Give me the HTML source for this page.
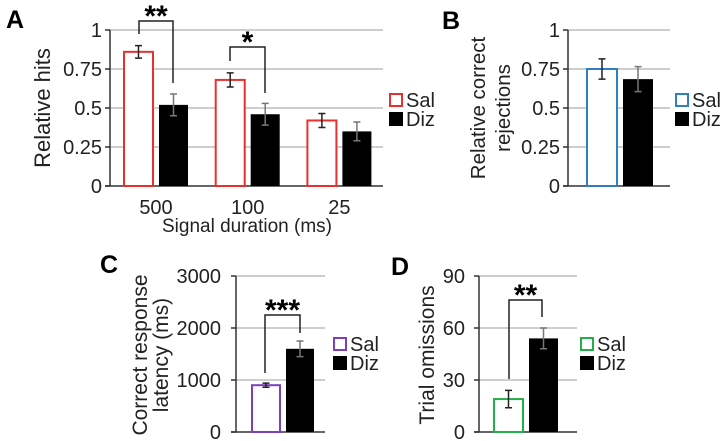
<!DOCTYPE html>
<html><head><meta charset="utf-8"><style>
html,body{margin:0;padding:0;background:#fff;}
svg{display:block;font-family:"Liberation Sans",Arial,sans-serif;}
</style></head><body>
<svg id="fig" width="720" height="441" viewBox="0 0 720 441"></svg>
<script>
const catsA = ["500","100","25"];
const salA = [0.86,0.68,0.42];
const salAErr = [0.04,0.045,0.045];
const dizA = [0.52,0.46,0.35];
const dizAErr = [0.07,0.07,0.06];
const ticksA = [0,0.25,0.5,0.75,1];
const tickLabelsA = ["0","0.25","0.5","0.75","1"];
const salB = [0.75], salBErr=[0.065], dizB=[0.685], dizBErr=[0.08];
const salC = [900], salCErr=[40], dizC=[1600], dizCErr=[150];
const ticksC = [0,1000,2000,3000];
const salD = [19], salDErr=[5], dizD=[54], dizDErr=[6];
const ticksD = [0,30,60,90];

const NS="http://www.w3.org/2000/svg";
const svg=document.getElementById('fig');
function mk(tag,attrs,parent,txt){const e=document.createElementNS(NS,tag);for(const k in attrs)e.setAttribute(k,attrs[k]);if(txt!==undefined)e.textContent=txt;(parent||svg).appendChild(e);return e;}

function panel(o){
  const g=mk('g',{});
  
  
  const y=v=>o.y0-(v-o.min)/(o.max-o.min)*(o.y0-o.y1);
  const tfs=o.tfs||20;
  o.ticks.forEach((t,i)=>{
    if(i>0){const gl=mk('line',{x1:o.ax,x2:o.gx,y1:y(t),y2:y(t),stroke:'#bdbdbd','stroke-width':1.5},g);
      }
    const tk=mk('line',{x1:o.ax-5,x2:o.ax,y1:y(t),y2:y(t),stroke:'#333','stroke-width':1.5},g);
    
    const tl=mk('text',{x:o.ax-(o.tgap||8),y:y(t)+tfs*0.35,'text-anchor':'end','font-size':tfs,fill:'#222'},g,o.tickLabels?o.tickLabels[i]:String(t));
    
  });
  const ya=mk('line',{x1:o.ax,x2:o.ax,y1:o.y1,y2:o.y0,stroke:'#333','stroke-width':1.5},g);
  
  const xa=mk('line',{x1:o.ax-5,x2:o.gx,y1:o.y0,y2:o.y0,stroke:'#333','stroke-width':1.5},g);
  
  o.sal.forEach((v,i)=>{
    const c=o.c0+i*o.step;
    const b=mk('rect',{x:c-o.off-o.bw,y:y(v),width:o.bw,height:o.y0-y(v),fill:'#fff',stroke:o.color,'stroke-width':2},g);
    
    const d=o.diz[i];
    const b2=mk('rect',{x:c+o.off,y:y(d),width:o.bw,height:o.y0-y(d),fill:'#000'},g);
    
    [[c-o.off-o.bw/2,v,o.salErr[i],'#222'],[c+o.off+o.bw/2,d,o.dizErr[i],'#777']].forEach(([x,m,e,col])=>{
      const eb=mk('path',{d:`M${x},${y(m+e)}V${y(m-e)}M${x-3.5},${y(m+e)}H${x+3.5}M${x-3.5},${y(m-e)}H${x+3.5}`,stroke:col,'stroke-width':1.5,fill:'none'},g);
      
    });
    if(o.cats){const xl=mk('text',{x:c,y:o.y0+28,'text-anchor':'middle','font-size':20,fill:'#222'},g,o.cats[i]);
      }
  });
  const lt=mk('text',{x:o.lx,y:o.ly,'font-size':25,'font-weight':'bold',fill:'#000'},g,o.letter);
  
  o.ylab.forEach((s,i)=>{
    const x=o.ylx[i];
    const t=mk('text',{x:x,y:o.yly,'text-anchor':'middle','font-size':o.ylfs||21,fill:'#222',transform:`rotate(-90 ${x} ${o.yly})`},g,s);
    
  });
  const lfs=o.lfs||20;
  const r1=mk('rect',{x:o.legx+1,y:o.legy+1,width:12,height:12,fill:'#fff',stroke:o.color,'stroke-width':2},g);
  
  const t1=mk('text',{x:o.legx+17,y:o.legy+14,'font-size':lfs,fill:'#222'},g,'Sal');
  
  const r2=mk('rect',{x:o.legx,y:o.legy+19,width:14,height:14,fill:'#000'},g);
  
  const t2=mk('text',{x:o.legx+17,y:o.legy+33,'font-size':lfs,fill:'#222'},g,'Diz');
  
  (o.sig||[]).forEach(s=>{
    const br=mk('path',{d:`M${s.x1},${s.l}V${s.top}H${s.x2}V${s.r}`,stroke:'#222','stroke-width':1.5,fill:'none'},g);
    
    const st=mk('text',{x:(s.x1+s.x2)/2,y:s.top+5,'text-anchor':'middle','font-size':o.sfs||30,'font-weight':'bold',fill:'#000'},g,s.stars);
    
  });
  return y;
}

panel({name:'panel-a',letter:'A',lx:6,ly:28,ax:110,gx:383,y0:186,y1:30,min:0,max:1,ticks:ticksA,tickLabels:tickLabelsA,
  c0:156,step:91.7,bw:29,off:3,sal:salA,salErr:salAErr,diz:dizA,dizErr:dizAErr,cats:catsA,color:'#e8312f',
  ylab:['Relative hits'],ylx:[50],yly:108,ylfs:22,legx:389,legy:93,
  sig:[{x1:139,x2:173,top:21,l:34,r:83,stars:'**'},{x1:230,x2:265,top:47,l:61,r:93,stars:'*'}]});
const xt=mk('text',{x:247,y:232,'text-anchor':'middle','font-size':19,fill:'#222'},svg,'Signal duration (ms)');


panel({name:'panel-b',letter:'B',lx:442,ly:29,ax:568,gx:670,y0:186,y1:30,min:0,max:1,ticks:ticksA,tickLabels:tickLabelsA,
  c0:620,step:0,bw:30,off:3,sal:salB,salErr:salBErr,diz:dizB,dizErr:dizBErr,color:'#2f7fc1',
  ylab:['Relative correct','rejections'],ylx:[485,510],yly:108,ylfs:20.5,legx:675,legy:93});

panel({name:'panel-c',letter:'C',lx:100,ly:273,ax:236,gx:325,y0:432,y1:276,min:0,max:3000,ticks:ticksC,tfs:20,tgap:15,
  c0:283,step:0,bw:28,off:3,sal:salC,salErr:salCErr,diz:dizC,dizErr:dizCErr,color:'#7b3fc0',
  ylab:['Correct response','latency (ms)'],ylx:[147,168],yly:355,ylfs:21,legx:333,legy:337,lfs:20,sfs:30,
  sig:[{x1:265,x2:300,top:315,l:373,r:333,stars:'***'}]});

panel({name:'panel-d',letter:'D',lx:391,ly:275,ax:479,gx:577,y0:432,y1:276,min:0,max:90,ticks:ticksD,tfs:20,tgap:14,
  c0:526,step:0,bw:29,off:3,sal:salD,salErr:salDErr,diz:dizD,dizErr:dizDErr,color:'#22b04b',
  ylab:['Trial omissions'],ylx:[434],yly:355,ylfs:21,legx:580,legy:337,lfs:20,sfs:30,
  sig:[{x1:509,x2:542,top:300,l:379,r:317,stars:'**'}]});
</script>
</body></html>
